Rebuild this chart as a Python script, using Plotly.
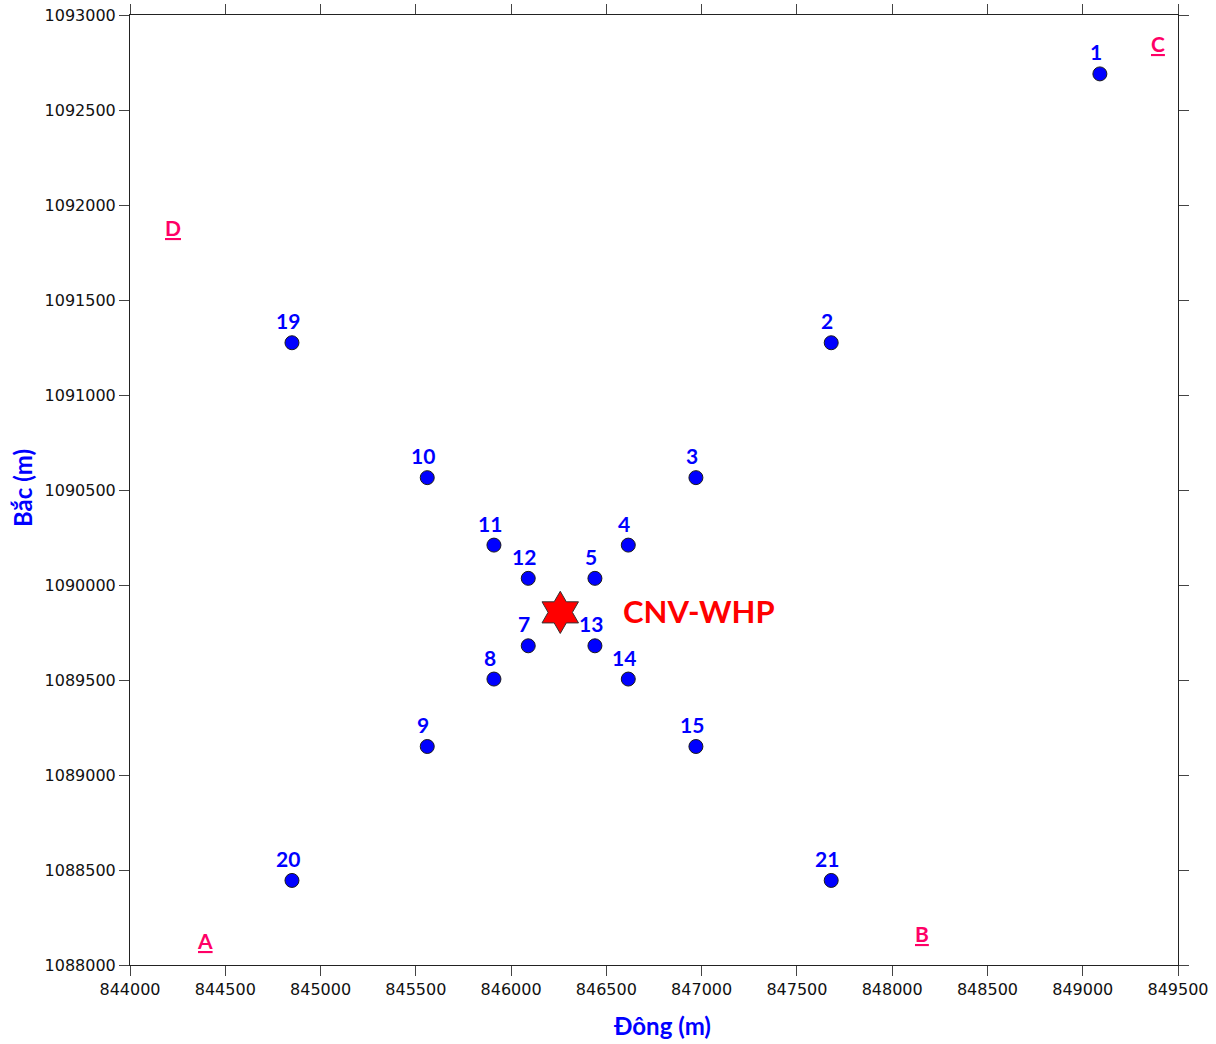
import plotly.graph_objects as go

# Monitoring points (UTM easting / northing, metres)
point_ids = ["1", "2", "3", "4", "5", "7", "8", "9", "10", "11", "12", "13", "14", "15", "19", "20", "21"]
point_east = [849090, 847680, 846970, 846615, 846440, 846090, 845910, 845560, 845560, 845910,
              846090, 846440, 846615, 846970, 844850, 844850, 847680]
point_north = [1092690, 1091275, 1090565, 1090210, 1090035, 1089680, 1089505, 1089150, 1090565,
               1090210, 1090035, 1089680, 1089505, 1089150, 1091275, 1088445, 1088445]

# Source location
source_name = "CNV-WHP"
source_east = [846258]
source_north = [1089856]

# Corner markers of the study area
corner_names = ["A", "B", "C", "D"]
corner_east = [844395, 848155, 849395, 844225]
corner_north = [1088130, 1088165, 1092850, 1091880]

x_range = [844000, 849500]
y_range = [1088000, 1093000]

BLUE = "#0000FF"
PINK = "#FF0066"
TITLE_FONT = "Lato"
TICK_FONT = "DejaVu Sans"

fig = go.Figure()

fig.add_trace(go.Scatter(
    x=point_east, y=point_north, mode="markers",
    marker=dict(size=14, color=BLUE, line=dict(color="#1a1a1a", width=1)),
    hoverinfo="text", text=point_ids, showlegend=False,
))

fig.add_trace(go.Scatter(
    x=source_east, y=source_north, mode="markers",
    marker=dict(symbol="hexagram", size=32, color="#FF0000",
                line=dict(color="#333333", width=1)),
    showlegend=False,
))

annotations = []
for pid, xe, yn in zip(point_ids, point_east, point_north):
    annotations.append(dict(
        x=xe, y=yn, text=f"<b>{pid}</b>", showarrow=False,
        xshift=-4, yshift=22, font=dict(family=TITLE_FONT, size=21, color=BLUE),
    ))

annotations.append(dict(
    x=source_east[0], y=source_north[0], text=f"<b>{source_name}</b>", showarrow=False,
    xanchor="left", xshift=61, yshift=1,
    font=dict(family=TITLE_FONT, size=31, color="#FF0000"),
))

for name, xe, yn in zip(corner_names, corner_east, corner_north):
    annotations.append(dict(
        x=xe, y=yn, text=f"<b><u>{name}</u></b>", showarrow=False,
        font=dict(family=TITLE_FONT, size=21, color=PINK),
    ))

# Axis titles
annotations.append(dict(
    x=0.5, y=0, xref="paper", yref="paper", xanchor="center", yanchor="middle",
    xshift=8, yshift=-60,
    text="<b>Đông (m)</b>", showarrow=False,
    font=dict(family=TITLE_FONT, size=24, color=BLUE),
))
annotations.append(dict(
    x=0, y=0.5, xref="paper", yref="paper", xanchor="center", yanchor="middle",
    xshift=-108, yshift=2,
    text="<b>Bắc (m)</b>", showarrow=False, textangle=-90,
    font=dict(family=TITLE_FONT, size=24, color=BLUE),
))

axis_common = dict(
    showgrid=False, zeroline=False, showline=True, linecolor="#222222", linewidth=1,
    mirror="ticks", ticks="outside", ticklen=10, tickwidth=1, tickcolor="#444444",
    dtick=500, tickformat="d", automargin=False,
    tickfont=dict(family=TICK_FONT, size=16, color="#111111"),
)

fig.update_xaxes(range=x_range, tick0=844000, **axis_common)
fig.update_yaxes(range=y_range, tick0=1088000, **axis_common)

fig.update_layout(
    width=1216, height=1044,
    margin=dict(l=130, r=38, t=15, b=79),
    plot_bgcolor="white", paper_bgcolor="white",
    annotations=annotations,
)

fig.write_html("out.html")
